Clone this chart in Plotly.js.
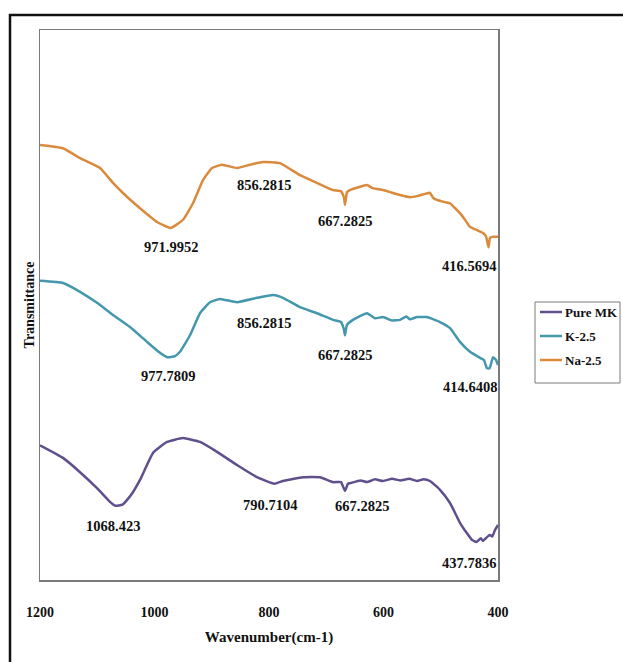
<!DOCTYPE html>
<html>
<head>
<meta charset="utf-8">
<script src="https://cdn.plot.ly/plotly-3.0.1.min.js"></script>
<style>
  html, body { margin: 0; padding: 0; background: #ffffff; }
  #chart { width: 623px; height: 662px; }
</style>
</head>
<body>
<div id="chart"></div>
<script>
// FTIR spectra (1200-400 cm-1), transmittance in arbitrary offset units
const seriesNames = ["Pure MK", "K-2.5", "Na-2.5"];
const seriesColors = ["#5F4F8D", "#4497AC", "#D98A3C"];

const pureWn = [1200, 1159.8, 1130.1, 1100.4, 1077.7, 1068.4, 1056.0, 1042.0, 1025.3, 1002.6, 978.2,
  950.2, 920.5, 890.8, 855.9, 821.0, 790.7, 775.6, 740.6, 710.9, 688.2,
  674.2, 667.3, 662.1, 658.5, 640.0, 628.8, 615.0, 600.9, 585.0, 571.2, 555.0, 541.5, 530.0, 518.8, 501.3,
  483.8, 466.4, 454.2, 445.4, 437.8, 430.0, 426.2, 419.2, 414.0, 410.0, 405.2, 400];
const pureT = [24.5, 22.2, 19.6, 16.7, 14.2, 13.5, 13.7, 15.3, 18.2, 23.1, 25.1,
  25.8, 25.1, 23.3, 20.9, 18.7, 17.5, 18.0, 18.7, 18.7, 17.8,
  17.8, 16.2, 17.5, 17.6, 18.1, 17.8, 18.3, 18.0, 18.4, 18.1, 18.4, 18.0, 18.3, 18.0, 16.4,
  14.0, 10.4, 8.5, 7.3, 6.9, 7.6, 7.1, 7.8, 8.2, 7.9, 9.1, 10.0];

const kWn = [1200, 1159.8, 1130.1, 1100.4, 1072.5, 1042.8, 1013.1, 990.4, 977.8, 964.2,
  955.5, 938.0, 920.5, 903.1, 885.6, 855.9, 821.0, 793.0, 775.6, 745.9,
  716.2, 688.2, 674.2, 669.0, 667.3, 663.8, 653.3, 628.8, 615.0, 600.9, 585.2,
  571.2, 560.0, 553.7, 541.5, 524.0, 501.3, 483.8, 466.4, 448.9, 431.4, 424.5,
  419.2, 414.6, 408.7, 403.5, 400];
const kT = [54.4, 54.0, 52.4, 50.4, 48.2, 46.0, 43.3, 41.3, 40.5, 40.7,
  41.5, 44.5, 48.5, 50.5, 51.1, 50.5, 51.3, 51.8, 51.3, 49.6,
  48.5, 47.3, 46.9, 45.5, 44.5, 46.4, 47.3, 48.5, 47.6, 47.8, 47.2,
  47.3, 47.9, 47.4, 47.8, 47.8, 46.9, 45.8, 43.3, 41.5, 40.4, 40.0,
  38.5, 38.5, 40.5, 40.0, 39.1];

const naWn = [1200, 1159.8, 1130.1, 1095.2, 1072.5, 1051.5, 1025.3, 995.6, 972.0, 950.2,
  932.8, 915.3, 899.6, 882.1, 855.9, 833.2, 810.5, 780.8, 745.9, 716.2,
  688.2, 674.2, 669.0, 667.3, 663.8, 658.5, 628.8, 620.1, 611.4, 600.9,
  585.2, 571.2, 553.7, 541.5, 527.5, 518.8, 513.5, 506.6, 492.6, 483.8,
  475.1, 466.4, 457.6, 448.9, 436.7, 426.2, 421.0, 416.6, 414.0, 408.7, 400];
const naT = [79.1, 78.5, 76.7, 74.9, 72.2, 70.0, 67.6, 65.1, 64.0, 65.5,
  68.5, 72.7, 74.9, 75.5, 74.9, 75.5, 76.0, 75.8, 73.6, 72.2,
  70.9, 70.7, 69.5, 68.2, 70.5, 70.9, 71.8, 71.3, 71.1, 70.9,
  70.4, 70.0, 69.6, 69.8, 70.2, 70.4, 69.5, 69.1, 68.7, 68.5,
  67.6, 66.7, 65.5, 64.2, 63.6, 63.1, 62.5, 60.5, 62.2, 62.4, 62.4];

// Peak labels: wavenumber text, label height, horizontal nudge (px)
const peakText = ["971.9952", "856.2815", "667.2825", "416.5694",
                  "977.7809", "856.2815", "667.2825", "414.6408",
                  "1068.423", "790.7104", "667.2825", "437.7836"];
const peakY = [60.5, 71.8, 65.3, 57.1,
               37.1, 46.7, 40.9, 35.1,
               9.8, 13.6, 13.5, 3.1];
const peakShift = [0, 27, 0, -20,
                   1, 27, 0, -20,
                   -2, -4, 17, -7];

const serif = "'Liberation Serif', 'Times New Roman', serif";
const PLOT_W = 458, PLOT_H = 550;   // plot area size in px

const traces = [
  { x: pureWn, y: pureT },
  { x: kWn, y: kT },
  { x: naWn, y: naT }
].map((t, i) => ({
  x: t.x, y: t.y, name: seriesNames[i], type: "scatter", mode: "lines",
  line: { color: seriesColors[i], width: 2.5, shape: "spline", smoothing: 0.4 },
  hoverinfo: "skip", showlegend: false
}));

const annotations = peakText.map((txt, i) => ({
  x: parseFloat(txt), y: peakY[i], xref: "x", yref: "y",
  text: txt, showarrow: false, xshift: peakShift[i],
  xanchor: "center", yanchor: "middle",
  font: { family: serif, size: 14.5, color: "#111111", weight: "bold" }
}));

// Legend box at the right of the plot, drawn in paper units
const px = v => (v - 40) / PLOT_W;          // page x -> paper x
const py = v => (580 - v) / PLOT_H;         // page y -> paper y
const legendRowY = [312, 336, 360];

const shapes = [
  {
    type: "rect", xref: "paper", yref: "paper",
    x0: px(10), x1: px(640), y0: py(670), y1: py(15),
    line: { color: "#111111", width: 2.5 }, fillcolor: "rgba(0,0,0,0)", layer: "below"
  },
  {
    type: "rect", xref: "paper", yref: "paper",
    x0: px(535), x1: px(620), y0: py(383), y1: py(302),
    line: { color: "#7a7a7a", width: 1 }, fillcolor: "#ffffff", layer: "below"
  }
];
seriesNames.forEach((name, i) => {
  shapes.push({
    type: "line", xref: "paper", yref: "paper",
    x0: px(540), x1: px(562), y0: py(legendRowY[i]), y1: py(legendRowY[i]),
    line: { color: seriesColors[i], width: 2.5 }
  });
  annotations.push({
    xref: "paper", yref: "paper", x: px(563), y: py(legendRowY[i]),
    text: name, showarrow: false, xanchor: "left", yanchor: "middle",
    font: { family: serif, size: 13, color: "#111111", weight: "bold" }
  });
});

const layout = {
  width: 623, height: 662,
  margin: { l: 40, r: 125, t: 30, b: 82 },
  paper_bgcolor: "#ffffff", plot_bgcolor: "#ffffff",
  showlegend: false,
  xaxis: {
    range: [1200, 400],
    tickvals: [1200, 1000, 800, 600, 400],
    ticktext: ["1200", "1000", "800", "600", "400"],
    ticks: "", ticklabelstandoff: 19,
    showgrid: false, zeroline: false,
    showline: true, mirror: true, linecolor: "#7a7a7a", linewidth: 1.5,
    tickfont: { family: serif, size: 14, color: "#111111", weight: "bold" },
    title: { text: "Wavenumber(cm-1)", standoff: 12,
             font: { family: serif, size: 15, color: "#111111", weight: "bold" } }
  },
  yaxis: {
    range: [0, 100],
    showticklabels: false, ticks: "",
    showgrid: false, zeroline: false,
    showline: true, mirror: true, linecolor: "#7a7a7a", linewidth: 1.5,
    title: { text: "Transmittance", standoff: 0,
             font: { family: serif, size: 14, color: "#111111", weight: "bold" } }
  },
  annotations: annotations,
  shapes: shapes
};

Plotly.newPlot("chart", traces, layout, { staticPlot: true, displayModeBar: false });
</script>
</body>
</html>
